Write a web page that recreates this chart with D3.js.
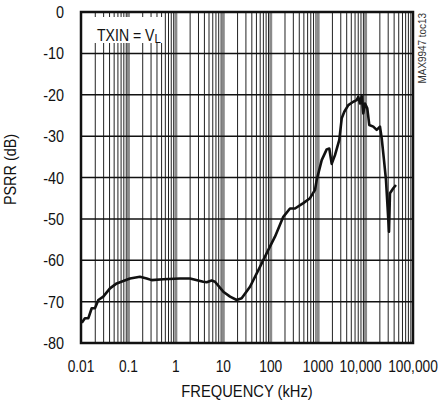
<!DOCTYPE html>
<html>
<head>
<meta charset="utf-8">
<script src="https://cdn.jsdelivr.net/npm/d3@7"></script>
<style>
  body { margin: 0; background: #fff; }
  text { font-family: "Liberation Sans", Arial, sans-serif; fill: #111; }
</style>
</head>
<body>
<div id="plot"></div>
<script>
// data
var freq = [0.0104, 0.0121, 0.0143, 0.0168, 0.0197, 0.0232, 0.0295, 0.0408, 0.0566, 0.078,
    0.108, 0.175, 0.243, 0.31, 0.54, 1.22, 1.99, 3.79, 4.46, 5.69, 6.68, 10, 13.9, 19.2, 24.4,
    36.6, 59.4, 89, 123, 184, 255, 325, 486, 673, 859, 932, 1189, 1514, 1718, 1931, 2266, 2792,
    3140, 3560, 4325, 5510, 6500, 7030, 7630, 8280, 8950, 9720, 10870, 11970, 14550, 17150,
    20130, 21870, 24450, 26930, 31180, 32700, 38400, 43750];
var psrr = [-75.1, -74, -74, -71.6, -71.6, -69.6, -68.8, -66.8, -65.6, -65,
    -64.4, -64, -64.4, -64.8, -64.6, -64.4, -64.4, -65.2, -65.3, -64.9, -65.2, -67.6, -68.8, -69.6, -69.2,
    -66.4, -61.6, -57.5, -54.3, -49.5, -47.5, -47.5, -46.2, -45, -43, -40.6, -35.8, -33.2, -33, -36.7, -34.6, -30.9,
    -25.7, -24.1, -22.5, -21.7, -21.3, -20.5, -22.1, -20.3, -24.5, -22.1, -23.3, -27.3, -27.7, -28.5,
    -27.7, -30.5, -35.8, -40.6, -53.1, -43.8, -42.6, -41.8];

var xTicks = [0.01, 0.1, 1, 10, 100, 1000, 10000, 100000];
var xTickLabels = ["0.01", "0.1", "1", "10", "100", "1000", "10,000", "100,000"];
var yTicks = [0, -10, -20, -30, -40, -50, -60, -70, -80];

var margin = {top: 12, right: 27, bottom: 62, left: 81};
var width = 440 - margin.left - margin.right,
    height = 405 - margin.top - margin.bottom;

var svg = d3.select("#plot")
    .append("svg")
    .attr("width", 440)
    .attr("height", 405)
    .append("g")
    .attr("transform", `translate(${margin.left}, ${margin.top})`);

var x = d3.scaleLog()
    .domain([0.01, 100000])
    .range([0, width]);

var y = d3.scaleLinear()
    .domain([-80, 0])
    .range([height, 0]);

// the original type is a condensed face, so squeeze text horizontally
function narrow(px, py, sx, rot) {
    return `translate(${px}, ${py})` + (rot ? ` rotate(${rot})` : "") + ` scale(${sx}, 1)`;
}

// minor vertical grid (2..9 in each decade)
var minor = [];
for (var i = 0; i < xTicks.length - 1; i++)
    for (var k = 2; k <= 9; k++)
        minor.push(xTicks[i] * k);

svg.append("g").selectAll("line").data(minor).enter()
    .append("line")
    .attr("x1", d => x(d)).attr("x2", d => x(d))
    .attr("y1", 0).attr("y2", height)
    .attr("stroke", "#222")
    .attr("stroke-width", 1);

// decade lines are drawn as a wider grey band
svg.append("g").selectAll("line").data(xTicks.slice(1, -1)).enter()
    .append("line")
    .attr("x1", d => x(d)).attr("x2", d => x(d))
    .attr("y1", 0).attr("y2", height)
    .attr("stroke", "#8a8a8a")
    .attr("stroke-width", 3);

// horizontal grid
svg.append("g").selectAll("line").data(yTicks).enter()
    .append("line")
    .attr("x1", 0).attr("x2", width)
    .attr("y1", d => y(d)).attr("y2", d => y(d))
    .attr("stroke", "#111")
    .attr("stroke-width", 1.5);

// label box
svg.append("rect")
    .attr("x", 1).attr("y", 5)
    .attr("width", 81).attr("height", 26)
    .attr("fill", "#fff");

var lab = svg.append("text")
    .attr("transform", narrow(16, 29, 0.88))
    .style("font-size", "16px")
    .text("TXIN = V");
lab.append("tspan")
    .attr("dy", 2)
    .style("font-size", "13px")
    .text("L");

// curve
var line = d3.line()
    .x((d, i) => x(freq[i]))
    .y(d => y(d))
    .curve(d3.curveLinear);

svg.append("path")
    .datum(psrr)
    .attr("fill", "none")
    .attr("stroke", "#111")
    .attr("stroke-width", 2.6)
    .attr("stroke-linejoin", "round")
    .attr("d", line);

// frame
svg.append("rect")
    .attr("x", 0).attr("y", 0)
    .attr("width", width).attr("height", height)
    .attr("fill", "none")
    .attr("stroke", "#111")
    .attr("stroke-width", 2.5);

// x tick labels (10,000 sits a little left so it clears 100,000)
svg.append("g").selectAll("text").data(xTicks).enter()
    .append("text")
    .attr("transform", d => narrow(x(d) + (d === 10000 ? -5 : 0), height + 29, 0.86))
    .style("text-anchor", "middle")
    .style("font-size", "16px")
    .text((d, i) => xTickLabels[i]);

// y tick labels
svg.append("g").selectAll("text").data(yTicks).enter()
    .append("text")
    .attr("transform", d => narrow(-17, y(d) + 6, 0.9))
    .style("text-anchor", "end")
    .style("font-size", "16px")
    .text(d => d);

// axis titles
svg.append("text")
    .attr("transform", narrow(width / 2, height + 54, 0.92))
    .style("text-anchor", "middle")
    .style("font-size", "16px")
    .text("FREQUENCY (kHz)");

svg.append("text")
    .attr("transform", narrow(-65, height / 2 - 8, 0.9, -90))
    .style("text-anchor", "middle")
    .style("font-size", "16px")
    .text("PSRR (dB)");

// figure code at the right
svg.append("text")
    .attr("transform", narrow(width + 13, 1, 0.9, -90))
    .style("text-anchor", "end")
    .style("font-size", "11px")
    .style("fill", "#333")
    .text("MAX9947 toc13");
</script>
</body>
</html>
